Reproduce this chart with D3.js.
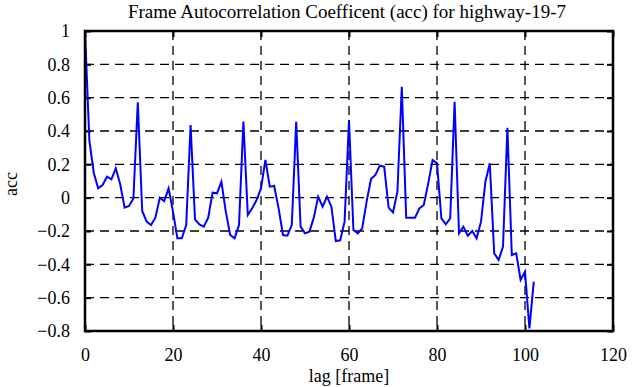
<!DOCTYPE html>
<html><head><meta charset="utf-8">
<script src="https://cdn.jsdelivr.net/npm/d3@7"></script>
<style>body{margin:0;background:#fff}svg{display:block}text{font-family:'Liberation Serif','Times New Roman',serif}</style>
</head><body>
<svg id="c" width="635" height="387"></svg>
<script>
const lags = d3.range(0, 103);
const acc = [
 1.0, 0.34, 0.148, 0.056, 0.076, 0.126, 0.11, 0.176, 0.08, -0.06,
 -0.05, -0.005, 0.572, -0.08, -0.144, -0.164, -0.12, 0.0, -0.02, 0.056,
 -0.084, -0.244, -0.244, -0.164, 0.436, -0.13, -0.16, -0.174, -0.12, 0.03,
 0.026, 0.096, -0.084, -0.224, -0.244, -0.164, 0.456, -0.104, -0.064, -0.014,
 0.056, 0.226, 0.066, 0.07, -0.064, -0.224, -0.228, -0.164, 0.456, -0.174,
 -0.214, -0.204, -0.12, 0.006, -0.054, 0.006, -0.054, -0.26, -0.256, -0.144,
 0.466, -0.194, -0.214, -0.184, -0.024, 0.112, 0.136, 0.192, 0.186, -0.06,
 -0.088, 0.036, 0.666, -0.12, -0.12, -0.12, -0.064, -0.044, 0.086, 0.226,
 0.206, -0.124, -0.16, -0.124, 0.576, -0.214, -0.174, -0.228, -0.2, -0.244,
 -0.144, 0.096, 0.206, -0.334, -0.374, -0.294, 0.42, -0.344, -0.334, -0.494,
 -0.444, -0.784, -0.504
];
const xTicks = [0, 20, 40, 60, 80, 100, 120];
const yTicks = [-0.8, -0.6, -0.4, -0.2, 0, 0.2, 0.4, 0.6, 0.8, 1];
const title = "Frame Autocorrelation Coefficent (acc) for highway-19-7";
const xLabel = "lag [frame]";
const yLabel = "acc";

const L = 85, R = 613, T = 31, B = 331;
const x = d3.scaleLinear().domain([0, 120]).range([L, R]);
const y = d3.scaleLinear().domain([-0.8, 1]).range([B, T]);
const svg = d3.select("#c");
const font = "'Liberation Serif', 'Times New Roman', serif";

// grid
svg.append("g").selectAll("line").data(xTicks.filter(d => d > 0 && d < 120)).join("line")
  .attr("x1", d => x(d)).attr("x2", d => x(d)).attr("y1", T).attr("y2", B)
  .attr("stroke", "#000").attr("stroke-width", 1.3).attr("stroke-dasharray", "9,6");
svg.append("g").selectAll("line").data(yTicks.filter(d => d > -0.8 && d < 1)).join("line")
  .attr("y1", d => y(d)).attr("y2", d => y(d)).attr("x1", L).attr("x2", R)
  .attr("stroke", "#000").attr("stroke-width", 1.3).attr("stroke-dasharray", "9,6");

// axes with inward ticks
const tickLen = 6;
const gx = svg.append("g").attr("transform", `translate(0,${B})`)
  .call(d3.axisBottom(x).tickValues(xTicks).tickSize(-tickLen).tickPadding(tickLen + 11).tickFormat(d3.format("d")));
const gxt = svg.append("g").attr("transform", `translate(0,${T})`)
  .call(d3.axisTop(x).tickValues(xTicks).tickSize(-tickLen).tickFormat(""));
const gy = svg.append("g").attr("transform", `translate(${L},0)`)
  .call(d3.axisLeft(y).tickValues(yTicks).tickSize(-tickLen).tickPadding(tickLen + 9).tickFormat(d => d3.format("")(+d.toFixed(1))));
const gyr = svg.append("g").attr("transform", `translate(${R},0)`)
  .call(d3.axisRight(y).tickValues(yTicks).tickSize(-tickLen).tickFormat(""));
[gx, gxt, gy, gyr].forEach(g => {
  g.attr("font-family", null).attr("font-size", null);
  g.select(".domain").remove();
  g.selectAll(".tick line").attr("stroke", "#000").attr("stroke-width", 2);
  g.selectAll("text").style("font-family", font).style("font-size", "18px").attr("fill", "#000");
});

// line
svg.append("path").datum(lags.map((l, i) => [l, acc[i]]))
  .attr("fill", "none").attr("stroke", "#0000ff").attr("stroke-width", 2)
  .attr("stroke-linejoin", "miter")
  .attr("d", d3.line().x(d => x(d[0])).y(d => y(d[1])));

// frame
svg.append("rect").attr("x", L).attr("y", T).attr("width", R - L).attr("height", B - T)
  .attr("fill", "none").attr("stroke", "#000").attr("stroke-width", 2.5);

// labels
svg.append("text").attr("x", (L + R) / 2 - 2).attr("y", 18).attr("text-anchor", "middle")
  .style("font-family", font).style("font-size", "19px").text(title);
svg.append("text").attr("x", (L + R) / 2).attr("y", 382).attr("text-anchor", "middle")
  .style("font-family", font).style("font-size", "18px").text(xLabel);
svg.append("text").attr("transform", `translate(17,${(T + B) / 2 + 3}) rotate(-90)`).attr("text-anchor", "middle")
  .style("font-family", font).style("font-size", "18px").text(yLabel);
</script>
</body></html>
